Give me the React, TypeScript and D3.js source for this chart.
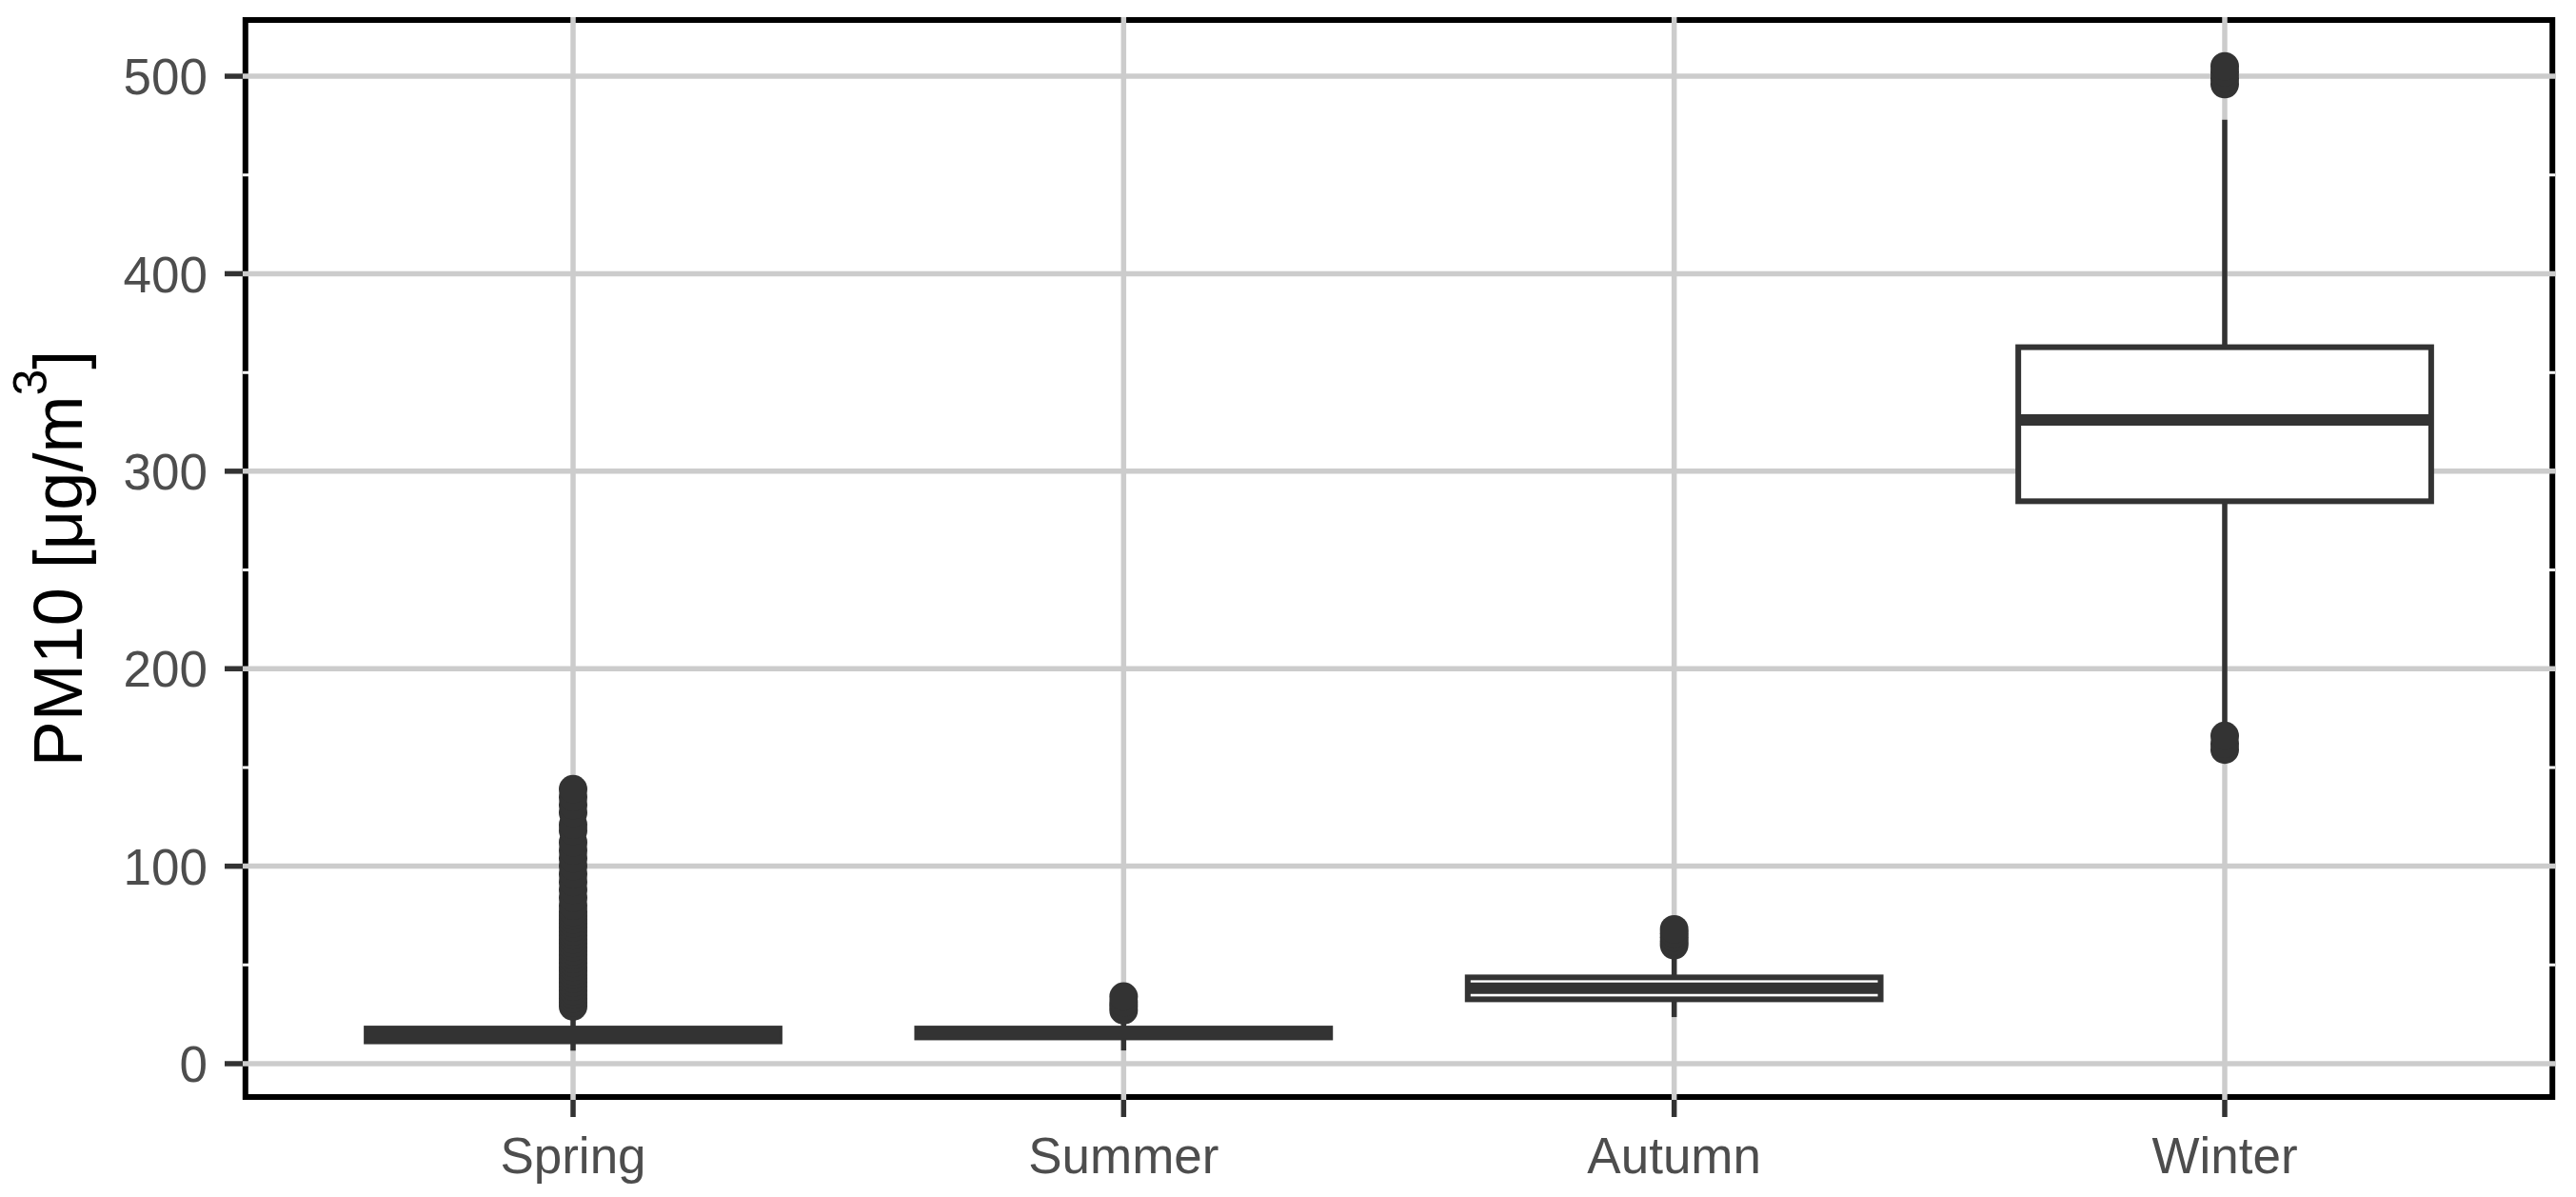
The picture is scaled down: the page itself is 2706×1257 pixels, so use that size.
import React from "react"
import * as d3 from "d3"

const seasons = ["Spring", "Summer", "Autumn", "Winter"]
const q1 = [11.3, 13.3, 32.6, 284.8]
const medians = [14, 15.5, 38.2, 326]
const q3 = [17.8, 17.8, 43.7, 362.8]
const whiskerLow = [6.6, 6.7, 23.6, 170]
const whiskerHigh = [27, 25, 57, 478]
const springOutliers = [29, 31, 33, 35, 37, 39, 41, 43, 45, 47, 49, 51, 53, 55, 57, 59, 61, 63, 65, 67, 69, 71, 73, 75, 77, 80, 84, 88, 92, 96, 100, 104, 108, 112, 118, 121, 127, 131, 135, 139]
const summerOutliers = [27, 29, 31, 34]
const autumnOutliers = [60, 62, 64, 66, 68]
const winterOutliers = [159, 162, 166, 496, 499, 502, 505]
const outliers = [springOutliers, summerOutliers, autumnOutliers, winterOutliers]
const yTicks = [0, 100, 200, 300, 400, 500]
const yMinor = [50, 150, 250, 350, 450]

const W = 2706
const H = 1257
const left = 255
const right = 2684
const top = 18
const bottom = 1155
const ink = "#333333"

export default function App() {
    // ggplot style 5% expansion around everything that is drawn
    const lo = d3.min([...whiskerLow, ...outliers.flat()])
    const hi = d3.max([...whiskerHigh, ...outliers.flat()])
    const pad = (hi - lo) * 0.05

    const y = d3.scaleLinear().domain([lo - pad, hi + pad]).range([bottom, top])
    const x = d3.scalePoint().domain(seasons).range([left, right]).padding(0.6)
    const boxW = x.step() * 0.75

    return (
        <svg width={W} height={H} style={{ position: "absolute", left: 0, top: 0 }}
            fontFamily="'Liberation Sans', Arial, sans-serif">
            <rect x={0} y={0} width={W} height={H} fill="white" />
            <rect x={left + 2.8} y={top + 3} width={right - left - 5.6} height={bottom - top - 6}
                fill="white" stroke="black" strokeWidth={6} />

            {yMinor.map(t => (
                <line key={"m" + t} x1={left} x2={right} y1={y(t)} y2={y(t)} stroke="white" strokeWidth={3} />
            ))}
            {yTicks.map(t => (
                <line key={"g" + t} x1={left} x2={right} y1={y(t)} y2={y(t)} stroke="#cccccc" strokeWidth={5.5} />
            ))}
            {seasons.map(s => (
                <line key={"v" + s} x1={x(s)} x2={x(s)} y1={top} y2={bottom} stroke="#cccccc" strokeWidth={5.5} />
            ))}

            {seasons.map((s, i) => {
                const cx = x(s)
                return (
                    <g key={s}>
                        <line x1={cx} x2={cx} y1={y(q3[i])} y2={y(whiskerHigh[i])} stroke={ink} strokeWidth={5.5} />
                        <line x1={cx} x2={cx} y1={y(q1[i])} y2={y(whiskerLow[i])} stroke={ink} strokeWidth={5.5} />
                        <rect x={cx - boxW / 2} y={y(q3[i])} width={boxW} height={y(q1[i]) - y(q3[i])}
                            fill="white" stroke={ink} strokeWidth={6} />
                        <line x1={cx - boxW / 2} x2={cx + boxW / 2} y1={y(medians[i])} y2={y(medians[i])}
                            stroke={ink} strokeWidth={12} />
                        {outliers[i].map((v, j) => (
                            <circle key={j} cx={cx} cy={y(v)} r={15} fill={ink} />
                        ))}
                    </g>
                )
            })}

            {yTicks.map(t => (
                <g key={"t" + t}>
                    <line x1={left - 19} x2={left} y1={y(t)} y2={y(t)} stroke={ink} strokeWidth={5.5} />
                    <text x={218} y={y(t)} dy="0.36em" textAnchor="end" fontSize={53} fill="#4d4d4d">{t}</text>
                </g>
            ))}
            {seasons.map(s => (
                <g key={"xt" + s}>
                    <line x1={x(s)} x2={x(s)} y1={bottom} y2={bottom + 18} stroke={ink} strokeWidth={5.5} />
                    <text x={x(s)} y={1232} textAnchor="middle" fontSize={53} fill="#4d4d4d">{s}</text>
                </g>
            ))}

            <text transform={`translate(86,${(top + bottom) / 2}) rotate(-90)`} textAnchor="middle"
                fontSize={72} fill="black">
                PM10 [μg/m<tspan dy={-37} fontSize={50}>3</tspan><tspan dy={37}>]</tspan>
            </text>
        </svg>
    )
}
